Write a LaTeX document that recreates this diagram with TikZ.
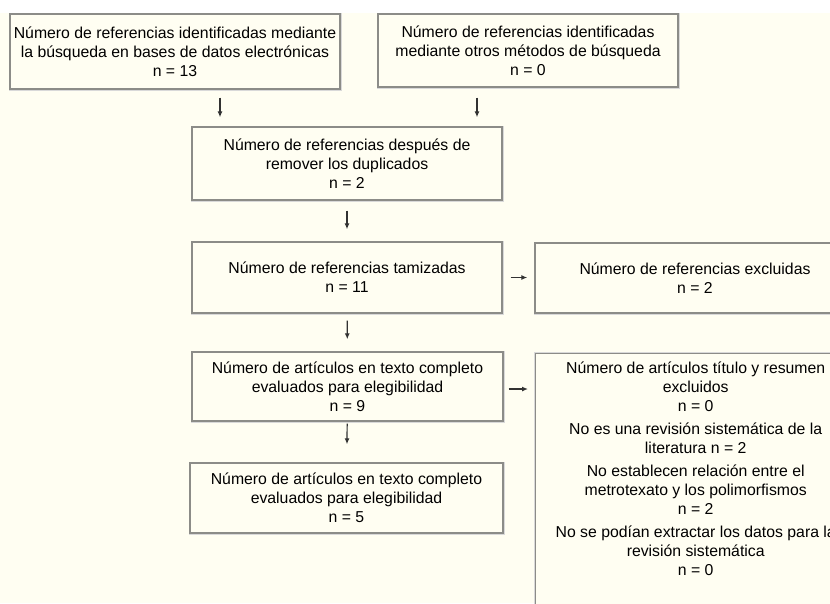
\documentclass[tikz,border=0pt]{standalone}
\usepackage{fontspec}
\setmainfont{Liberation Sans}
\usetikzlibrary{arrows.meta}
\definecolor{bgcream}{RGB}{255,254,242}
\definecolor{boxline}{RGB}{140,140,136}
\definecolor{arrowdark}{RGB}{50,50,50}

\begin{document}
\begin{tikzpicture}[x=1pt,y=-1pt,
    box/.style={draw=boxline, line width=1.4pt, fill=bgcream,
        preaction={draw=black!15, line width=3pt},
        align=center, inner sep=0pt, font=\fontsize{15.8}{19}\selectfont},
    arr/.style={draw=arrowdark, line width=1.2pt, -{Latex[length=6pt,width=5pt]}}]

    % Page size and background
    \useasboundingbox (0,0) rectangle (830,603);
    \clip (0,0) rectangle (830,603);
    \fill[bgcream] (0,13) rectangle (830,603);

    % Columns of the two upper arrows
    \coordinate (c1) at (220,0);
    \coordinate (c2) at (477,0);

    % Identification
    \node[box, minimum width=330, minimum height=75] (ident) at (175,51.5)
        {Número de referencias identificadas mediante\\
         la búsqueda en bases de datos electrónicas\\ n = 13};
    \node[box, minimum width=300, minimum height=73] (other) at (528,50.5)
        {Número de referencias identificadas\\
         mediante otros métodos de búsqueda\\ n = 0};

    % Duplicates and screening
    \node[box, minimum width=310, minimum height=73] (dedup) at (347,163.5)
        {Número de referencias después de\\ remover los duplicados\\ n = 2};
    \node[box, minimum width=310, minimum height=71] (screen) at (347,277.5)
        {Número de referencias tamizadas\\ n = 11};
    \node[box, minimum width=320, minimum height=70] (excl) at (695,278)
        {Número de referencias excluidas\\ n = 2};

    % Eligibility
    \node[box, minimum width=311, minimum height=69] (full) at (347.5,386.5)
        {Número de artículos en texto completo\\
         evaluados para elegibilidad\\ n = 9};
    \node[box, minimum width=313, minimum height=70] (incl) at (346.5,498)
        {Número de artículos en texto completo\\
         evaluados para elegibilidad\\ n = 5};

    % Exclusion reasons (box runs past the page)
    \node[box, minimum width=320, minimum height=290, anchor=north west] (excl2) at (535,353) {};
    \node[align=center, inner sep=0pt, anchor=north, font=\fontsize{15.8}{19}\selectfont]
        (reasons) at ([yshift=-8.5]excl2.north)
        {Número de artículos título y resumen\\ excluidos\\ n = 0\\[4pt]
         No es una revisión sistemática de la\\ literatura n = 2\\[4pt]
         No establecen relación entre el\\ metrotexato y los polimorfismos\\ n = 2\\[4pt]
         No se podían extractar los datos para la\\ revisión sistemática\\ n = 0};

    % Arrows
    \draw[arr, shorten <=8pt, shorten >=9pt] (ident.south -| c1) -- (dedup.north -| c1);
    \draw[arr, shorten <=10pt, shorten >=9pt] (other.south -| c2) -- (dedup.north -| c2);
    \draw[arr, shorten <=10pt, shorten >=12pt] (dedup) -- (screen);
    \draw[arr, shorten <=8pt, shorten >=7pt] (screen.east) -- (screen.east -| excl.west);
    \draw[arr, shorten <=7pt, shorten >=12pt] (screen) -- (full);
    \draw[arr, shorten <=5pt, shorten >=7pt] ([yshift=-2.5]full.east) -- ([yshift=-2.5]full.east -| excl2.west);
    \draw[arr, shorten <=2pt, shorten >=18pt] (full) -- (incl);
\end{tikzpicture}
\end{document}
